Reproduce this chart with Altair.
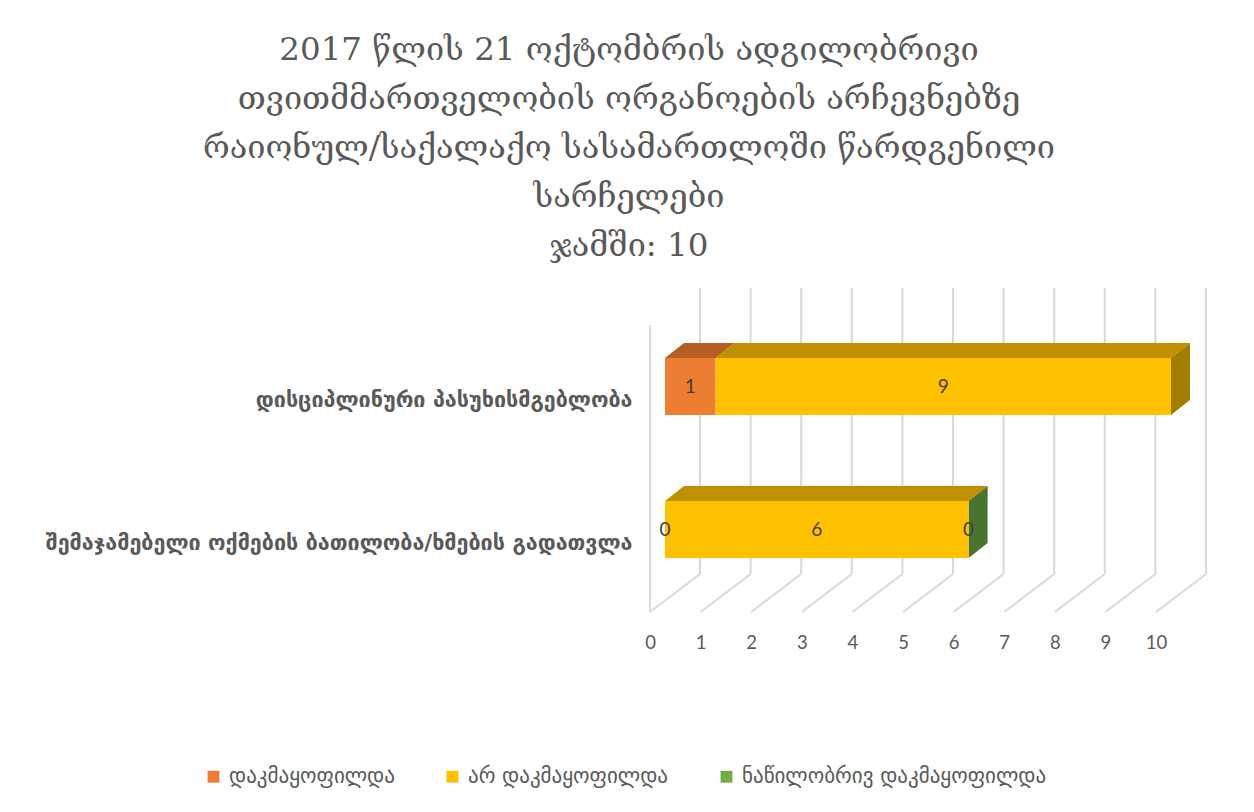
import json
import altair as alt
import pandas as pd

# ---------------- data ----------------
categories = [
    "დისციპლინური პასუხისმგებლობა",
    "შემაჯამებელი ოქმების ბათილობა/ხმების გადათვლა",
]
series = ["დაკმაყოფილდა", "არ დაკმაყოფილდა", "ნაწილობრივ დაკმაყოფილდა"]
satisfied = [1, 0]
not_satisfied = [9, 6]
partially = [None, 0]
tick_values = list(range(0, 11))
title_lines = [
    "2017 წლის 21 ოქტომბრის ადგილობრივი",
    "თვითმმართველობის ორგანოების არჩევნებზე",
    "რაიონულ/საქალაქო სასამართლოში წარდგენილი",
    "სარჩელები",
    "ჯამში: 10",
]

# ---------------- styles ----------------
front_colors = ["#ED7D31", "#FFC000", "#70AD47"]
top_colors = ["#B55F27", "#C09000", "#557F38"]
side_colors = ["#A0541F", "#A27D00", "#4A7330"]
grid_color = "#D9D9D9"
text_color = "#595959"

# ---------------- geometry (pixels) ----------------
W, H = 1218, 340          # plot area
PX_X = 50.6               # pixels per value unit
PX_Y = 143.0              # pixels per category step
X0_PX = 630.0             # where value 0 sits on the floor front edge
Y0_PX = 106.5             # centre of first category
BAR_SHIFT = 15.0          # bar front face shift from floor front
BAR_DX, BAR_DY = 19.0, 15.0   # bar depth
BAR_H = 57.0
WALL_DX = 50.0
WALL_TOP, WALL_BOTTOM, FLOOR_FRONT, LEFT_TOP = 8.0, 294.0, 332.0, 45.0


def ux(px):
    return px / PX_X


def uy(py):
    return (py - Y0_PX) / PX_Y


x_scale = alt.Scale(domain=[-X0_PX / PX_X, (W - X0_PX) / PX_X], nice=False, zero=False)
y_scale = alt.Scale(domain=[uy(0), uy(H)], nice=False, zero=False, reverse=True)

x_axis = alt.Axis(values=tick_values, title=None, grid=False, ticks=False, domain=False,
                  labelPadding=13, labelFontSize=18.5, labelColor=text_color,
                  labelFont="Lato", format="d", labelOverlap=False)
label_expr = json.dumps(categories, ensure_ascii=False) + "[datum.value]"
y_axis = alt.Axis(values=list(range(len(categories))), labelExpr=label_expr, title=None,
                  grid=False, ticks=False, domain=False, offset=-(X0_PX - 18),
                  labelPadding=0, labelFontSize=21.5, labelFontWeight="bold",
                  labelFont="DejaVu Sans", labelColor=text_color, labelOffset=14,
                  labelLimit=0)

# ---------------- grid (3D walls) ----------------
grid_rows = []
for t in tick_values:
    grid_rows.append(dict(x=t + ux(WALL_DX), x2=t + ux(WALL_DX), y=uy(WALL_TOP), y2=uy(WALL_BOTTOM)))
    grid_rows.append(dict(x=t, x2=t + ux(WALL_DX), y=uy(FLOOR_FRONT), y2=uy(WALL_BOTTOM)))
grid_rows.append(dict(x=0, x2=0, y=uy(LEFT_TOP), y2=uy(FLOOR_FRONT)))
grid_df = pd.DataFrame(grid_rows)

# ---------------- segments ----------------
values_by_series = [satisfied, not_satisfied, partially]
front, top, side, labels = [], [], [], []
half = BAR_H / 2 / PX_Y
for i, cat in enumerate(categories):
    acc = 0.0
    last = None
    for j, s in enumerate(series):
        v = values_by_series[j][i]
        if v is None:
            continue
        xs = acc + ux(BAR_SHIFT)
        xe = acc + v + ux(BAR_SHIFT)
        yt, yb = i - half, i + half
        key = f"{i}-{j}"
        front.append(dict(series=s, x=xs, x2=xe, y=yt, y2=yb))
        top.append(dict(key=key, series=s, y=yt, x=xs, x2=xe))
        top.append(dict(key=key, series=s, y=yt - BAR_DY / PX_Y, x=xs + ux(BAR_DX), x2=xe + ux(BAR_DX)))
        labels.append(dict(x=(xs + xe) / 2, y=float(i), text=str(v)))
        last = (key, s, xe, yt, yb)
        acc += v
    key, s, xe, yt, yb = last
    side.append(dict(key=key, series=s, x=xe, y=yt, y2=yb))
    side.append(dict(key=key, series=s, x=xe + ux(BAR_DX), y=yt - BAR_DY / PX_Y, y2=yb - BAR_DY / PX_Y))

front_df = pd.DataFrame(front)
top_df = pd.DataFrame(top)
side_df = pd.DataFrame(side)
label_df = pd.DataFrame(labels)

X = lambda f: alt.X(f, scale=x_scale, axis=x_axis)
Y = lambda f: alt.Y(f, scale=y_scale, axis=y_axis)

grid = alt.Chart(grid_df).mark_rule(color=grid_color, strokeWidth=2).encode(
    x=X("x:Q"), x2="x2:Q", y=Y("y:Q"), y2="y2:Q")

top_layer = alt.Chart(top_df).mark_area(orient="horizontal").encode(
    y=Y("y:Q"), x=X("x:Q"), x2="x2:Q", detail="key:N",
    color=alt.Color("series:N", scale=alt.Scale(domain=series, range=top_colors), legend=None))

side_layer = alt.Chart(side_df).mark_area(orient="vertical").encode(
    x=X("x:Q"), y=Y("y:Q"), y2="y2:Q", detail="key:N",
    color=alt.Color("series:N", scale=alt.Scale(domain=series, range=side_colors), legend=None))

front_layer = alt.Chart(front_df).mark_rect().encode(
    x=X("x:Q"), x2="x2:Q", y=Y("y:Q"), y2="y2:Q",
    color=alt.Color("series:N", scale=alt.Scale(domain=series, range=front_colors),
                    legend=alt.Legend(orient="none", legendX=183, legendY=486,
                                      direction="horizontal", title=None,
                                      symbolType="square", symbolSize=140,
                                      symbolStrokeWidth=0, labelFontSize=21,
                                      labelColor=text_color, labelFont="DejaVu Sans",
                                      columnPadding=47, labelLimit=0, labelOffset=5)))

text_layer = alt.Chart(label_df).mark_text(fontSize=19, color="#404040", font="Lato").encode(
    x=X("x:Q"), y=Y("y:Q"), text="text:N")

chart = alt.layer(grid, top_layer, side_layer, front_layer, text_layer).resolve_scale(
    color="independent"
).properties(
    width=W, height=H,
    title=alt.TitleParams(text=title_lines, font="DejaVu Serif", fontSize=32.5,
                          fontWeight="normal", color=text_color, lineHeight=49,
                          anchor="middle", frame="group", offset=18),
    autosize=alt.AutoSizeParams(type="none"),
    padding={"left": 12, "top": 272, "right": 8, "bottom": 184},
    background="white",
).configure_view(stroke=None)

chart.save("out.html", embed_options={"renderer": "svg", "actions": False})
